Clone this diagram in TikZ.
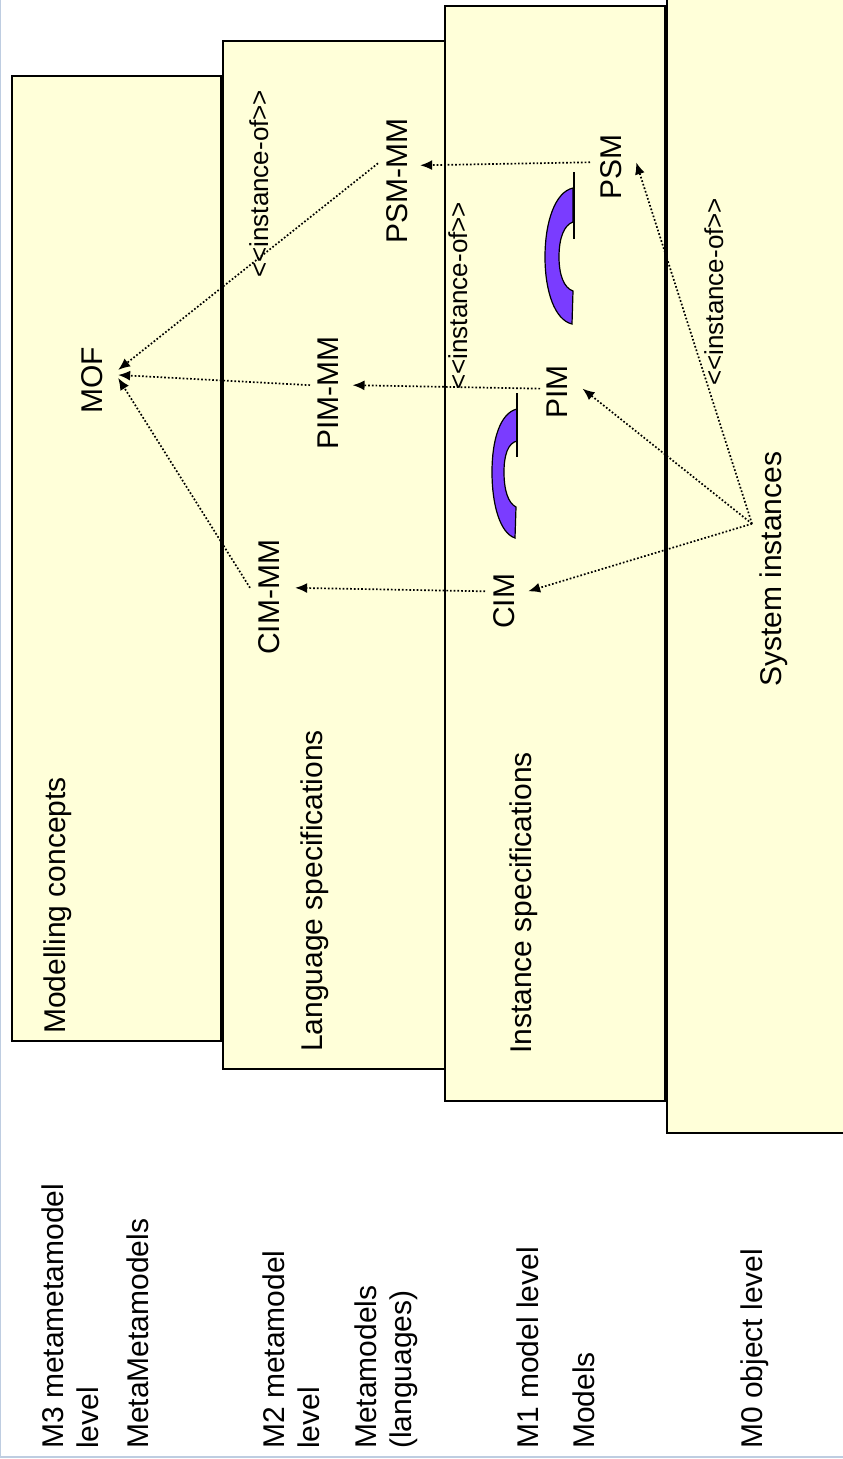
\documentclass[tikz,border=0pt]{standalone}
\usepackage{fontspec}
\setmainfont{Liberation Sans}
\usetikzlibrary{arrows.meta}
\definecolor{levelfill}{RGB}{255,255,217}
\definecolor{bendfill}{RGB}{122,60,255}
\definecolor{edgeblue}{RGB}{190,205,225}
\tikzset{
	levelbox/.style={draw=black, line width=1.2pt, fill=levelfill},
	bendshape/.style={draw=black, line width=1.2pt, fill=bendfill},
	vtext/.style={rotate=90, anchor=north west, inner sep=0pt, align=left, font=\fontsize{30}{35}\selectfont},
	vsmall/.style={vtext, font=\fontsize{26}{30}\selectfont},
	inst/.style={dotted, line width=1.7pt, -{Latex[length=12pt,width=10pt]}}
}
\begin{document}
\begin{tikzpicture}[x=1pt, y=-1pt]
	\useasboundingbox (0, 0) rectangle (843, 1459);
	
	% Края страницы
	\draw[edgeblue, line width=1.5pt] (0.5, 0) -- (0.5, 1457) -- (843, 1457);
	
	% Уровни
	\draw[levelbox] (667, -5) rectangle (850, 1133);
	\draw[levelbox] (445, 6) rectangle (665, 1101);
	\draw[levelbox] (223, 41) rectangle (445, 1069);
	\draw[levelbox] (12, 76) rectangle (221, 1041);
	
	% Подписи уровней
	\node[vtext] (mthree) at (42, 1449) {M3 metametamodel\\level};
	\node[vtext] (metameta) at (127, 1449) {MetaMetamodels};
	\node[vtext] (mtwo) at (263, 1449) {M2 metamodel\\level};
	\node[vtext] (metamodels) at (355, 1449) {Metamodels\\(languages)};
	\node[vtext] (mone) at (517, 1449) {M1 model level};
	\node[vtext] (models) at (573, 1449) {Models};
	\node[vtext] (mzero) at (741, 1449) {M0 object level};
	
	% Заголовки внутри уровней
	\node[vtext] (concepts) at (44, 1034) {Modelling concepts};
	\node[vtext] (langspec) at (301, 1052) {Language specifications};
	\node[vtext] (instspec) at (510, 1054) {Instance specifications};
	\node[vtext] (sys) at (760, 687) {System instances};
	
	% Модели
	\node[vtext] (mof) at (81, 414) {MOF};
	\node[vtext] (cimmm) at (258, 655) {CIM-MM};
	\node[vtext] (pimmm) at (318, 450) {PIM-MM};
	\node[vtext] (psmmm) at (386, 244) {PSM-MM};
	\node[vtext] (cim) at (493, 629) {CIM};
	\node[vtext] (pim) at (547, 419) {PIM};
	\node[vtext] (psm) at (600, 200) {PSM};
	
	% Подписи стрелок
	\node[vsmall] (instone) at (249, 278) {<{}<instance-of>{}>};
	\node[vsmall] (insttwo) at (448, 390) {<{}<instance-of>{}>};
	\node[vsmall] (instthree) at (704, 386) {<{}<instance-of>{}>};
	
	% Изогнутые стрелки
	\draw[bendshape] (517, 409) .. controls (500, 413) and (492, 440) .. (492, 472) .. controls (492, 505) and (500, 533) .. (515, 538) -- (516, 507) .. controls (508, 503) and (504, 490) .. (504, 472) .. controls (504, 455) and (508, 443) .. (517, 441) -- cycle;
	\draw[line width=1.2pt] (517, 393) -- (517, 457);
	\draw[bendshape] (573, 188) .. controls (555, 192) and (545, 222) .. (545, 257) .. controls (545, 292) and (555, 320) .. (572, 324) -- (573, 291) .. controls (564, 288) and (559, 275) .. (559, 257) .. controls (559, 238) and (564, 225) .. (573, 222) -- cycle;
	\draw[line width=1.2pt] (574, 172) -- (574, 239);
	
	% Отношения между уровнями
	\draw[inst] ([shift={(-10,-5)}]psm.north) -- ([shift={(12.5,-16)}]psmmm.south);
	\draw[inst] ([shift={(-7,-3.5)}]pim.north) -- ([shift={(13.5,-8)}]pimmm.south);
	\draw[inst] ([shift={(-8,-10)}]cim.north) -- ([shift={(15.5,-9.5)}]cimmm.south);
	\draw[inst] ([shift={(-8,-18)}]psmmm.north) -- ([shift={(15.5,-10.5)}]mof.south);
	\draw[inst] ([shift={(-8,-8)}]pimmm.north) -- ([shift={(15.5,-5.5)}]mof.south);
	\draw[inst] ([shift={(-8,-9.5)}]cimmm.north) -- ([shift={(15.5,-2.5)}]mof.south);
	\draw[inst] ([shift={(-8,-45.5)}]sys.north) -- ([shift={(13.5,-10)}]cim.south);
	\draw[inst] ([shift={(-8,-45.5)}]sys.north) -- ([shift={(14.5,-3.5)}]pim.south);
	\draw[inst] ([shift={(-8,-45.5)}]sys.north) -- ([shift={(14.5,-5)}]psm.south);
\end{tikzpicture}
\end{document}
